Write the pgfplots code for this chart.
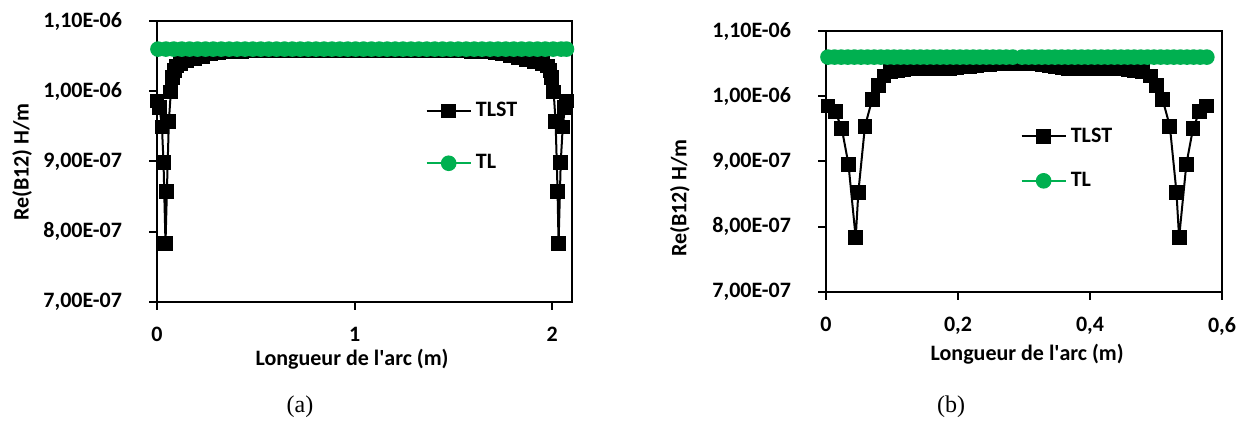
\documentclass[border=0pt]{standalone}
\usepackage{fontspec}
\setmainfont{Carlito}
\newfontfamily\capfont{Liberation Serif}
\usepackage{pgfplots}
\pgfplotsset{compat=1.18}
\definecolor{tlgreen}{RGB}{0,176,80}
\pgfplotsset{
  common/.style={
    scale only axis,
    anchor=south west,
    clip=false,
    axis line style={line width=1pt},
    every tick/.style={line width=1pt, black},
    tick align=outside,
    major tick length=4pt,
    xtick pos=bottom, ytick pos=left,
    ymin=0.7, ymax=1.1,
    ytick={0.7,0.8,0.9,1.0,1.1},
    yticklabels={{7,00E-07},{8,00E-07},{9,00E-07},{1,00E-06},{1,10E-06}},
    tick label style={font=\fontsize{11}{13}\selectfont\bfseries},
    yticklabel style={xshift=-10pt},
    xticklabel style={yshift=-5pt},
    label style={font=\fontsize{11}{13}\selectfont\bfseries, anchor=center},
    legend cell align=left,
    legend style={draw=none, fill=none, inner sep=0pt,
      font=\fontsize{11}{13}\selectfont\bfseries},
    legend image code/.code={\draw[mark repeat=2,mark phase=2] plot coordinates {(0pt,0pt)(11pt,0pt)(22pt,0pt)};},
  },
  tlst/.style={black, line width=1pt, mark=square*, mark size=3.2pt, mark options={solid}},
  tl/.style={tlgreen, line width=1.2pt, mark=*, mark size=3.3pt, mark options={solid}},
}
\begin{document}
\begin{tikzpicture}
\useasboundingbox (0pt,0pt) rectangle (628pt,211pt);
% ---------------- (a) ----------------
\begin{axis}[common,
  at={(78.5pt,60pt)}, width=207.5pt, height=140.5pt,
  xmin=0, xmax=2.1, xtick={0,1,2}, xticklabels={0,1,2},
  xlabel={Longueur de l\textquotesingle arc (m)},
  ylabel={Re(B12) H/m},
  xlabel style={at={(axis description cs:0.470,-0.203)}},
  ylabel style={at={(axis description cs:-0.325,0.498)}},
  legend style={at={(axis description cs:0.646,0.587)}, anchor=west, row sep=13.5pt},
]
\addplot[tlst] coordinates {
(0.000,0.986)(0.013,0.977)(0.025,0.949)(0.033,0.899)(0.043,0.783)(0.050,0.857)
(0.060,0.957)(0.070,0.999)(0.079,1.020)(0.088,1.030)(0.098,1.036)
(0.12,1.039)(0.15,1.043)(0.19,1.047)(0.23,1.050)(0.27,1.053)(0.31,1.055)
(0.35,1.056)(0.39,1.057)(0.43,1.057)(0.47,1.058)(0.51,1.058)(0.55,1.058)
(0.59,1.058)(0.63,1.058)(0.67,1.058)(0.71,1.058)(0.75,1.058)(0.79,1.058)
(0.83,1.058)(0.87,1.058)(0.91,1.058)(0.95,1.058)(0.99,1.058)(1.03,1.058)
(1.07,1.058)(1.11,1.058)(1.15,1.058)(1.19,1.058)(1.23,1.058)(1.27,1.058)
(1.31,1.058)(1.35,1.058)(1.39,1.058)(1.43,1.058)(1.47,1.058)(1.51,1.058)
(1.55,1.058)(1.59,1.057)(1.63,1.057)(1.67,1.056)(1.71,1.055)(1.75,1.053)
(1.79,1.051)(1.83,1.048)(1.87,1.045)(1.91,1.042)(1.95,1.039)(1.977,1.036)
(1.989,1.030)(1.998,1.020)(2.007,0.999)(2.017,0.957)(2.027,0.857)(2.032,0.783)
(2.043,0.899)(2.053,0.949)(2.064,0.977)(2.074,0.986)
};
\addlegendentry{TLST}
\addplot[tl] coordinates {
(0.005,1.06)(0.045,1.06)(0.085,1.06)(0.125,1.06)(0.165,1.06)(0.205,1.06)
(0.245,1.06)(0.285,1.06)(0.325,1.06)(0.365,1.06)(0.405,1.06)(0.445,1.06)
(0.485,1.06)(0.525,1.06)(0.565,1.06)(0.605,1.06)(0.645,1.06)(0.685,1.06)
(0.725,1.06)(0.765,1.06)(0.805,1.06)(0.845,1.06)(0.885,1.06)(0.925,1.06)
(0.965,1.06)(1.005,1.06)(1.045,1.06)(1.085,1.06)(1.125,1.06)(1.165,1.06)
(1.205,1.06)(1.245,1.06)(1.285,1.06)(1.325,1.06)(1.365,1.06)(1.405,1.06)
(1.445,1.06)(1.485,1.06)(1.525,1.06)(1.565,1.06)(1.605,1.06)(1.645,1.06)
(1.685,1.06)(1.725,1.06)(1.765,1.06)(1.805,1.06)(1.845,1.06)(1.885,1.06)
(1.925,1.06)(1.965,1.06)(2.005,1.06)(2.045,1.06)(2.072,1.06)
};
\addlegendentry{TL}
\end{axis}
% ---------------- (b) ----------------
\begin{axis}[common,
  at={(413pt,65pt)}, width=198pt, height=130.5pt,
  xmin=0, xmax=0.6, xtick={0,0.2,0.4,0.6}, xticklabels={0,{0,2},{0,4},{0,6}},
  xlabel={Longueur de l\textquotesingle arc (m)},
  ylabel={Re(B12) H/m},
  xlabel style={at={(axis description cs:0.508,-0.2375)}},
  ylabel style={at={(axis description cs:-0.369,0.360)}},
  legend style={at={(axis description cs:0.49,0.511)}, anchor=west, row sep=9.5pt},
]
\addplot[tlst] coordinates {
(0.003,0.985)(0.014,0.977)(0.024,0.950)(0.034,0.896)(0.045,0.783)(0.049,0.853)
(0.059,0.954)(0.070,0.995)(0.079,1.017)(0.088,1.031)(0.098,1.038)
(0.108,1.040)(0.118,1.041)(0.128,1.042)(0.138,1.042)(0.148,1.042)(0.158,1.042)
(0.168,1.042)(0.178,1.042)(0.188,1.043)(0.198,1.044)(0.208,1.045)(0.218,1.046)
(0.228,1.047)(0.238,1.048)(0.248,1.049)(0.258,1.050)(0.268,1.050)(0.278,1.050)
(0.288,1.050)(0.298,1.050)(0.308,1.050)(0.318,1.050)(0.328,1.049)(0.338,1.047)
(0.348,1.045)(0.358,1.044)(0.368,1.043)(0.378,1.042)(0.388,1.042)(0.398,1.042)
(0.408,1.042)(0.418,1.042)(0.428,1.042)(0.438,1.042)(0.448,1.042)(0.458,1.041)
(0.468,1.040)(0.480,1.038)(0.492,1.031)(0.501,1.017)(0.510,0.995)(0.521,0.954)
(0.531,0.853)(0.535,0.783)(0.546,0.896)(0.556,0.950)(0.566,0.977)(0.577,0.985)
};
\addlegendentry{TLST}
\addplot[tl] coordinates {
(0.003,1.06)(0.013,1.06)(0.023,1.06)(0.033,1.06)(0.043,1.06)(0.053,1.06)
(0.063,1.06)(0.073,1.06)(0.083,1.06)(0.093,1.06)(0.103,1.06)(0.113,1.06)
(0.123,1.06)(0.133,1.06)(0.143,1.06)(0.153,1.06)(0.163,1.06)(0.173,1.06)
(0.183,1.06)(0.193,1.06)(0.203,1.06)(0.213,1.06)(0.223,1.06)(0.233,1.06)
(0.243,1.06)(0.253,1.06)(0.263,1.06)(0.273,1.06)(0.283,1.06)
(0.297,1.06)(0.307,1.06)(0.317,1.06)(0.327,1.06)(0.337,1.06)(0.347,1.06)
(0.357,1.06)(0.367,1.06)(0.377,1.06)(0.387,1.06)(0.397,1.06)(0.407,1.06)
(0.417,1.06)(0.427,1.06)(0.437,1.06)(0.447,1.06)(0.457,1.06)(0.467,1.06)
(0.477,1.06)(0.487,1.06)(0.497,1.06)(0.507,1.06)(0.517,1.06)(0.527,1.06)
(0.537,1.06)(0.547,1.06)(0.557,1.06)(0.567,1.06)(0.577,1.06)
};
\addlegendentry{TL}
\end{axis}
\node[font=\capfont\fontsize{12}{14}\selectfont] at (150pt,7.5pt) {(a)};
\node[font=\capfont\fontsize{12}{14}\selectfont] at (475.5pt,7.5pt) {(b)};
\end{tikzpicture}
\end{document}
